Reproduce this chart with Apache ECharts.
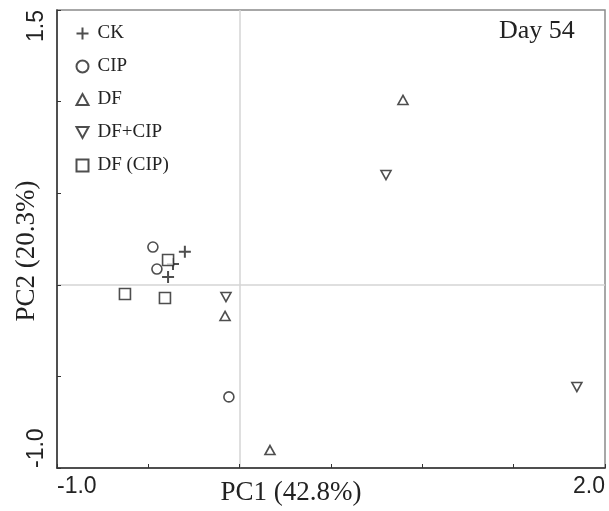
<!DOCTYPE html>
<html>
<head>
<meta charset="utf-8">
<script src="https://cdn.jsdelivr.net/npm/echarts@6/dist/echarts.min.js"></script>
<style>
  html, body { margin: 0; padding: 0; background: #fff; }
  #main { width: 609px; height: 511px; }
</style>
</head>
<body>
<div id="main"></div>
<script>
// PC1 / PC2 scores
const ckData = [[-0.30, 0.18], [-0.365, 0.114], [-0.392, 0.043]]
const cipData = [[-0.475, 0.206], [-0.453, 0.086], [-0.059, -0.612]]
const dfData = [[0.894, 1.009], [-0.080, -0.170], [0.166, -0.902]]
const dfCipData = [[0.801, 0.599], [-0.075, -0.067], [1.846, -0.558]]
const dfInCipData = [[-0.392, 0.135], [-0.628, -0.050], [-0.409, -0.072]]

const xMin = -1.0
const xMax = 2.0
const yMin = -1.0
const yMax = 1.5

const chart = echarts.init(document.getElementById('main'))

const serif = '"Liberation Serif", "Times New Roman", serif'
const sans = '"Liberation Sans", Arial, sans-serif'
const ink = '#222'

const hollow = {
  color: '#fff',
  borderColor: ink,
  borderWidth: 1.6,
}

const option = {
  animation: false,
  backgroundColor: '#fff',
  title: {
    text: 'Day 54',
    left: 499,
    top: 18,
    padding: 0,
    textStyle: {
      fontFamily: serif,
      fontWeight: 'normal',
      fontSize: 26,
      color: ink,
    },
  },
  legend: {
    orient: 'vertical',
    left: 69,
    top: 19,
    itemWidth: 12,
    itemHeight: 12,
    itemGap: 14,
    textStyle: {
      fontFamily: serif,
      fontSize: 19,
      color: ink,
      padding: [0, 0, 0, 4],
    },
    data: ['CK', 'CIP', 'DF', 'DF+CIP', 'DF (CIP)'],
  },
  grid: {
    left: 57,
    right: 4,
    top: 10,
    bottom: 43,
    outerBoundsMode: 'none',
    containLabel: false,
    show: true,
    borderColor: '#8a8a8a',
    borderWidth: 1.5,
  },
  xAxis: {
    type: 'value',
    min: xMin,
    max: xMax,
    interval: 0.5,
    name: 'PC1 (42.8%)',
    nameLocation: 'middle',
    nameGap: 11,
    nameMoveOverlap: false,
    nameTextStyle: {
      fontFamily: serif,
      fontSize: 27,
      color: ink,
      verticalAlign: 'top',
      padding: [0, 80, 0, 0],
    },
    axisLine: { onZero: false, lineStyle: { color: '#333', width: 1.5 } },
    axisTick: { inside: true, length: 4, lineStyle: { color: '#333' } },
    splitLine: { show: false },
    axisLabel: {
      margin: 7,
      fontFamily: sans,
      fontSize: 23,
      color: ink,
      alignMinLabel: 'left',
      alignMaxLabel: 'right',
      formatter: (v) => (v === xMin || v === xMax ? v.toFixed(1) : ''),
    },
  },
  yAxis: {
    type: 'value',
    min: yMin,
    max: yMax,
    interval: 0.5,
    name: 'PC2 (20.3%)',
    nameLocation: 'middle',
    nameGap: 17,
    nameRotate: 90,
    nameMoveOverlap: false,
    nameTextStyle: {
      fontFamily: serif,
      fontSize: 27,
      color: ink,
      verticalAlign: 'bottom',
      padding: [0, 24, 0, 0],
    },
    axisLine: { onZero: false, lineStyle: { color: '#333', width: 1.5 } },
    axisTick: { inside: true, length: 4, lineStyle: { color: '#333' } },
    splitLine: { show: false },
    axisLabel: {
      rotate: 90,
      margin: 9,
      fontFamily: sans,
      fontSize: 23,
      color: ink,
      alignMinLabel: 'left',
      alignMaxLabel: 'right',
      formatter: (v) => (v === yMin || v === yMax ? v.toFixed(1) : ''),
    },
  },
  series: [
    {
      name: 'CK',
      type: 'scatter',
      symbol: 'path://M5,0 L5,10 M0,5 L10,5',
      symbolSize: 12,
      itemStyle: { color: 'none', borderColor: ink, borderWidth: 2 },
      data: ckData,
      markLine: {
        silent: true,
        symbol: 'none',
        label: { show: false },
        lineStyle: { color: '#d4d4d4', width: 1.5, type: 'solid' },
        data: [{ xAxis: 0 }, { yAxis: 0 }],
        z: 0,
      },
    },
    {
      name: 'CIP',
      type: 'scatter',
      symbol: 'circle',
      symbolSize: 10,
      itemStyle: hollow,
      data: cipData,
    },
    {
      name: 'DF',
      type: 'scatter',
      symbol: 'path://M5,0 L10,9 L0,9 Z',
      symbolSize: [10, 9],
      itemStyle: hollow,
      data: dfData,
    },
    {
      name: 'DF+CIP',
      type: 'scatter',
      symbol: 'path://M0,0 L10,0 L5,9 Z',
      symbolSize: [10, 9],
      itemStyle: hollow,
      data: dfCipData,
    },
    {
      name: 'DF (CIP)',
      type: 'scatter',
      symbol: 'rect',
      symbolSize: 11,
      itemStyle: hollow,
      data: dfInCipData,
    },
  ],
}

chart.setOption(option)
</script>
</body>
</html>
